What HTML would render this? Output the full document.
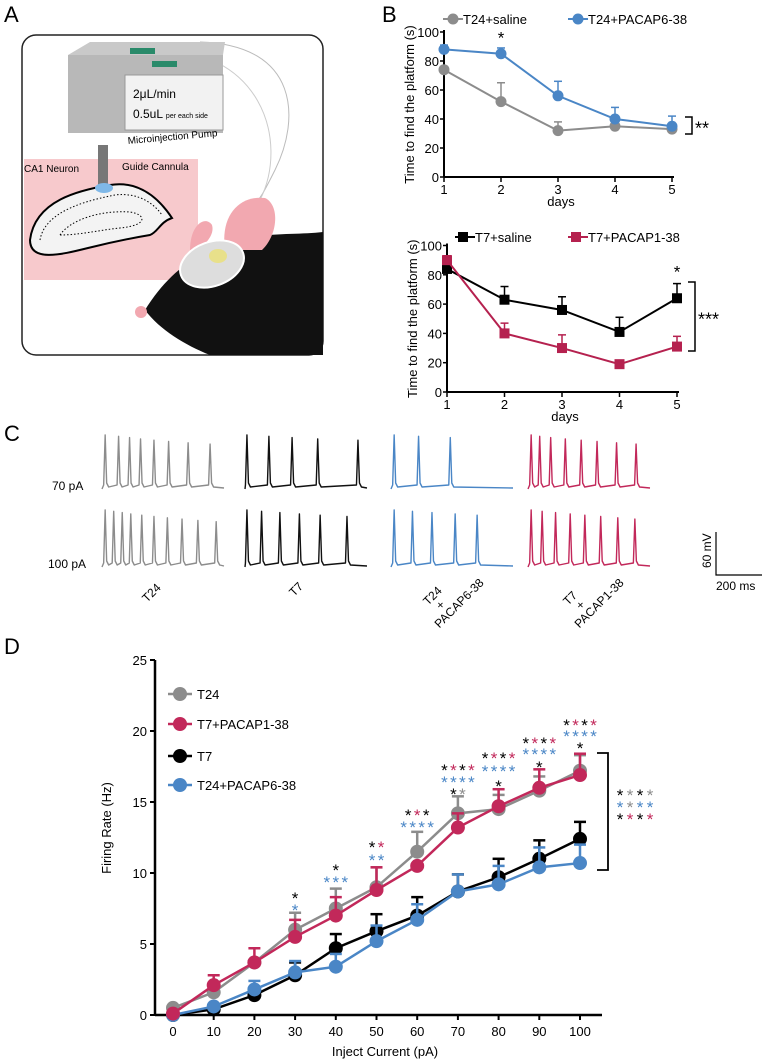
<!DOCTYPE html>
<html><head><meta charset="utf-8"><style>
body{margin:0;background:#fff;font-family:"Liberation Sans",sans-serif;}
svg{display:block}
text{font-family:"Liberation Sans",sans-serif}
</style></head><body>
<svg id="fig" width="764" height="1061" viewBox="0 0 764 1061">
<!-- Panel A -->
<g>
<text x="4" y="22" font-size="22">A</text>
<rect x="22" y="35" width="301" height="320" rx="14" fill="#fff" stroke="#222" stroke-width="1.5"/>
<rect x="24" y="159" width="174" height="121" fill="#f7c9cc"/>
<path d="M200,42 C300,45 300,120 275,170 C265,190 260,200 250,210" fill="none" stroke="#bbb" stroke-width="1"/>
<path d="M150,50 C260,45 290,140 260,200" fill="none" stroke="#ccc" stroke-width="1"/>
<g>
<polygon points="68,55 90,42 225,42 223,55" fill="#c9c9c9"/>
<rect x="68" y="55" width="155" height="78" fill="#b8b8b8"/>
<rect x="125" y="75" width="98" height="55" fill="#f2f2f2" stroke="#999"/>
<rect x="130" y="48" width="25" height="6" fill="#2a8a6a"/><rect x="152" y="61" width="25" height="6" fill="#2a8a6a"/>
<text x="133" y="98" font-size="12">2μL/min</text>
<text x="133" y="118" font-size="12">0.5uL <tspan font-size="7">per each side</tspan></text>
<text x="128" y="144" font-size="10" transform="rotate(-5 128 144)">Microinjection Pump</text>
</g>
<rect x="98" y="145" width="10" height="40" fill="#777"/>
<text x="24" y="172" font-size="10">CA1 Neuron</text>
<text x="122" y="170" font-size="10">Guide Cannula</text>
<path d="M30,240 C35,200 80,190 110,185 C140,180 160,200 172,218 C160,222 158,232 150,235 C120,240 100,245 88,248 C60,255 30,262 30,240 Z" fill="#f3f3f3" stroke="#000" stroke-width="2"/>
<path d="M40,240 C45,210 90,200 115,195 C140,192 155,205 162,215" fill="none" stroke="#000" stroke-dasharray="1.5 2" />
<path d="M60,235 C70,220 100,210 130,212 C145,214 150,225 120,228 C100,230 80,235 60,235 Z" fill="none" stroke="#000" stroke-dasharray="1.5 2"/>
<ellipse cx="104" cy="188" rx="9" ry="5" fill="#7fb8e8"/>
<path d="M145,310 C170,270 200,250 240,240 C270,232 300,235 323,232 L323,355 L210,355 C185,345 160,330 145,310 Z" fill="#111"/>
<path d="M225,250 C220,215 240,195 265,198 C280,205 278,235 262,250 Z" fill="#f2a8b0"/>
<path d="M190,250 C190,225 205,215 212,225 C215,235 205,245 195,252 Z" fill="#f2a8b0"/>
<ellipse cx="212" cy="264" rx="33" ry="22" fill="#ddd" stroke="#fff" stroke-width="2" transform="rotate(-20 212 264)"/>
<ellipse cx="218" cy="256" rx="9" ry="7" fill="#e8e08a"/>
<circle cx="141" cy="312" r="6" fill="#f2a8b0"/>
</g>

<!-- Panel B -->
<g>
<text x="382" y="22" font-size="22">B</text>
<g id="btop"></g>
<g id="bbot"></g>
</g>

<!-- Panel C -->
<g>
<text x="4" y="441" font-size="22">C</text>
<text x="52" y="490" font-size="12">70 pA</text>
<text x="48" y="568" font-size="12">100 pA</text>
<g id="traces"></g>
<path d="M716,532 V575 H762" fill="none" stroke="#000" stroke-width="1.2"/>
<text x="0" y="0" font-size="12" transform="translate(711,568) rotate(-90)">60 mV</text>
<text x="716" y="590" font-size="12">200 ms</text>
<text font-size="12" transform="translate(147,603) rotate(-45)">T24</text>
<text font-size="12" transform="translate(294,597) rotate(-45)">T7</text>
<text font-size="12" transform="translate(428,606) rotate(-45)"><tspan x="0" y="0">T24</tspan><tspan x="6" y="12">+</tspan><tspan x="-8" y="24">PACAP6-38</tspan></text>
<text font-size="12" transform="translate(568,606) rotate(-45)"><tspan x="0" y="0">T7</tspan><tspan x="6" y="12">+</tspan><tspan x="-8" y="24">PACAP1-38</tspan></text>
</g>

<!-- Panel D -->
<g>
<text x="4" y="654" font-size="22">D</text>
<g id="dchart"></g>
</g>
</svg>
<script>
const NS="http://www.w3.org/2000/svg";
function mk(tag,attrs,parent){const e=document.createElementNS(NS,tag);for(const k in attrs)e.setAttribute(k,attrs[k]);parent.appendChild(e);return e;}

// ---- Panel B data ----
const days=[1,2,3,4,5];
const bTopSaline=[74,52,32,35,33];
const bTopSalineErr=[0,13,6,5,3];
const bTopPacap=[88,85,56,40,35];
const bTopPacapErr=[3,4,10,8,7];
const bBotSaline=[84,63,56,41,64];
const bBotSalineErr=[4,9,9,10,10];
const bBotPacap=[90,40,30,19,31];
const bBotPacapErr=[3,7,9,2,7];
const bTicks=[0,20,40,60,80,100];

function bChart(g,x0,step,y0,py,series,legend,bracket,star){
  const X=d=>x0+(d-1)*step, Y=v=>y0-v*py;
  let e=mk('line',{x1:x0,y1:Y(100)-2,x2:x0,y2:y0,stroke:'#000','stroke-width':2},g);
  
  e=mk('line',{x1:x0,y1:y0,x2:X(5)+2,y2:y0,stroke:'#000','stroke-width':2},g);
  
  bTicks.forEach(t=>{mk('line',{x1:x0-4,y1:Y(t),x2:x0,y2:Y(t),stroke:'#000','stroke-width':1.5},g);
    const tx=mk('text',{x:x0-5,y:Y(t)+5,'font-size':13,'text-anchor':'end'},g);tx.textContent=t;
    });
  days.forEach(d=>{mk('line',{x1:X(d),y1:y0,x2:X(d),y2:y0+5,stroke:'#000','stroke-width':1.5},g);
    const tx=mk('text',{x:X(d),y:y0+17,'font-size':13,'text-anchor':'middle'},g);tx.textContent=d;
    });
  let t=mk('text',{x:X(3)+3,y:y0+29,'font-size':13,'text-anchor':'middle'},g);t.textContent='days';
  
  t=mk('text',{'font-size':13,'text-anchor':'middle',transform:`translate(${x0-30},${Y(50)}) rotate(-90)`},g);t.textContent='Time to find the platform (s)';
  
  series.forEach(s=>{
    s.vals.forEach((v,i)=>{if(s.err[i]>0){mk('line',{x1:X(days[i]),y1:Y(v),x2:X(days[i]),y2:Y(v+s.err[i]),stroke:s.c,'stroke-width':1.5},g);
      mk('line',{x1:X(days[i])-4,y1:Y(v+s.err[i]),x2:X(days[i])+4,y2:Y(v+s.err[i]),stroke:s.c,'stroke-width':1.5},g);}});
    const p=mk('polyline',{points:s.vals.map((v,i)=>X(days[i])+','+Y(v)).join(' '),fill:'none',stroke:s.c,'stroke-width':2},g);
    
    s.vals.forEach((v,i)=>{let m;
      if(s.sq) m=mk('rect',{x:X(days[i])-5,y:Y(v)-5,width:10,height:10,fill:s.c},g);
      else m=mk('circle',{cx:X(days[i]),cy:Y(v),r:5.5,fill:s.c},g);
      });
  });
  legend.forEach(l=>{
    mk('line',{x1:l.x-12,y1:l.y,x2:l.x+8,y2:l.y,stroke:l.c,'stroke-width':2},g);
    if(l.sq) mk('rect',{x:l.x-9,y:l.y-5,width:10,height:10,fill:l.c},g); else mk('circle',{cx:l.x-2,cy:l.y,r:5.5,fill:l.c},g);
    const tx=mk('text',{x:l.x+8,y:l.y+5,'font-size':13},g);tx.textContent=l.t;
    
  });
  mk('path',{d:`M${bracket.x},${bracket.y1} h7 V${bracket.y2} h-7`,fill:'none',stroke:'#000','stroke-width':1.5},g);
  t=mk('text',{x:bracket.x+10,y:(bracket.y1+bracket.y2)/2+9,'font-size':bracket.fs},g);t.textContent=bracket.s;
  
  t=mk('text',{x:X(star.d),y:Y(star.v),'font-size':17,'text-anchor':'middle'},g);t.textContent='*';
  
}
bChart(document.getElementById('btop'),444,57,177,1.45,
 [{name:'t24-saline',vals:bTopSaline,err:bTopSalineErr,c:'#8c8c8c'},{name:'t24-pacap6-38',vals:bTopPacap,err:bTopPacapErr,c:'#4a86c6'}],
 [{x:455,y:19,c:'#8c8c8c',t:'T24+saline'},{x:580,y:19,c:'#4a86c6',t:'T24+PACAP6-38'}],
 {x:685,y1:117,y2:134,s:'**',fs:18},{d:2,v:92});
bChart(document.getElementById('bbot'),447,57.5,392,1.465,
 [{name:'t7-saline',vals:bBotSaline,err:bBotSalineErr,c:'#000',sq:1},{name:'t7-pacap1-38',vals:bBotPacap,err:bBotPacapErr,c:'#b5214f',sq:1}],
 [{x:467,y:237,c:'#000',t:'T7+saline',sq:1},{x:580,y:237,c:'#b5214f',t:'T7+PACAP1-38',sq:1}],
 {x:688,y1:282,y2:351,s:'***',fs:18},{d:5,v:78});

// ---- Panel C traces ----
const traceGroups=[
 {x:102,c:'#8c8c8c',r70:[0.03,0.14,0.23,0.32,0.43,0.55,0.71,0.89],r100:[0.03,0.1,0.17,0.24,0.33,0.43,0.54,0.66,0.79,0.94]},
 {x:245,c:'#111',r70:[0.02,0.2,0.39,0.6,0.93],r100:[0.02,0.14,0.29,0.45,0.62,0.84]},
 {x:391,c:'#4a86c6',r70:[0.03,0.23,0.49],r100:[0.03,0.18,0.34,0.53,0.71]},
 {x:528,c:'#c2285a',r70:[0.03,0.1,0.19,0.31,0.44,0.57,0.73,0.89],r100:[0.03,0.12,0.23,0.35,0.47,0.6,0.74,0.88]}];
const tg=document.getElementById('traces');
traceGroups.forEach(gr=>{
  [[gr.r70,489,54],[gr.r100,567,57]].forEach(([sp,base,h])=>{
    const W=122;let d=`M${gr.x},${base}`;
    sp.forEach((s,i)=>{const sx=gr.x+s*W;
      d+=` L${sx-2},${base-4} L${sx-0.5},${base-h+i*1.3} L${sx+1},${base-6} L${sx+3},${base-2}`;});
    d+=` L${gr.x+W},${base-1}`;
    const p=mk('path',{d:d,fill:'none',stroke:gr.c,'stroke-width':1.4,'stroke-linejoin':'round'},tg);
    
    
  });
});

// ---- Panel D data ----
const currents=[0,10,20,30,40,50,60,70,80,90,100];
const dT24=[0.5,1.6,3.7,6.0,7.5,9.0,11.5,14.2,14.5,15.8,17.2];
const dT24Err=[0,0,0,1.2,1.4,1.4,1.4,1.2,1.0,1.0,1.1];
const dT7P=[0.1,2.1,3.7,5.5,7.0,8.8,10.5,13.2,14.7,16.0,16.9];
const dT7PErr=[0,0.7,1.0,1.2,1.3,1.6,0,1.0,1.2,1.3,1.5];
const dT7=[0,0.4,1.4,2.8,4.7,5.9,7.0,8.7,9.7,11.0,12.4];
const dT7Err=[0,0,0,0.9,1.0,1.2,1.3,1.2,1.3,1.3,1.2];
const dT24P=[0,0.6,1.8,3.0,3.4,5.2,6.7,8.7,9.2,10.4,10.7];
const dT24PErr=[0,0,0.6,0.8,0.9,1.1,1.1,1.2,1.3,1.4,1.3];
const dYTicks=[0,5,10,15,20,25];

const dg=document.getElementById('dchart');
const DX=v=>173+v*4.07, DY=v=>1015-v*14.2;
let e=mk('line',{x1:155,y1:DY(25),x2:155,y2:1015,stroke:'#000','stroke-width':2.5},dg);

e=mk('line',{x1:155,y1:1015,x2:602,y2:1015,stroke:'#000','stroke-width':2.5},dg);

dYTicks.forEach(t=>{mk('line',{x1:150,y1:DY(t),x2:155,y2:DY(t),stroke:'#000','stroke-width':2},dg);
  const tx=mk('text',{x:147,y:DY(t)+5,'font-size':13,'text-anchor':'end'},dg);tx.textContent=t;
  });
currents.forEach(c=>{mk('line',{x1:DX(c),y1:1015,x2:DX(c),y2:1020,stroke:'#000','stroke-width':2},dg);
  const tx=mk('text',{x:DX(c),y:1036,'font-size':13,'text-anchor':'middle'},dg);tx.textContent=c;
  });
let t=mk('text',{x:385,y:1056,'font-size':13,'text-anchor':'middle'},dg);t.textContent='Inject Current (pA)';

t=mk('text',{'font-size':13,'text-anchor':'middle',transform:'translate(111,828) rotate(-90)'},dg);t.textContent='Firing Rate (Hz)';


const dSeries=[
 {name:'t24',v:dT24,e:dT24Err,c:'#8c8c8c'},
 {name:'t7',v:dT7,e:dT7Err,c:'#000'},
 {name:'t24-pacap6-38',v:dT24P,e:dT24PErr,c:'#4a86c6'},
 {name:'t7-pacap1-38',v:dT7P,e:dT7PErr,c:'#c2285a'}];
dSeries.forEach(s=>{
  s.v.forEach((v,i)=>{if(s.e[i]>0){const x=DX(currents[i]);
    mk('line',{x1:x,y1:DY(v),x2:x,y2:DY(v+s.e[i]),stroke:s.c,'stroke-width':2.5},dg);
    mk('line',{x1:x-6,y1:DY(v+s.e[i]),x2:x+6,y2:DY(v+s.e[i]),stroke:s.c,'stroke-width':2.5},dg);}});
  const p=mk('polyline',{points:s.v.map((v,i)=>DX(currents[i])+','+DY(v)).join(' '),fill:'none',stroke:s.c,'stroke-width':2.5},dg);
  
  s.v.forEach((v,i)=>{const m=mk('circle',{cx:DX(currents[i]),cy:DY(v),r:7,fill:s.c},dg);
    });
});
// legend
const dLegend=[['T24','#8c8c8c',694],['T7+PACAP1-38','#c2285a',724],['T7','#000',756],['T24+PACAP6-38','#4a86c6',785]];
dLegend.forEach(([n,c,y])=>{mk('line',{x1:168,y1:y,x2:192,y2:y,stroke:c,'stroke-width':2.5},dg);
  mk('circle',{cx:180,cy:y,r:7,fill:c},dg);
  const tx=mk('text',{x:197,y:y+5,'font-size':13},dg);tx.textContent=n;
  });
// significance stars
const K='#000',R='#c2285a',B='#4a86c6',G='#8c8c8c';
const starRows=[
 [30,895,[K]],[30,907,[B]],[40,867,[K]],[40,879,[B,B,B]],[50,844,[K,R]],[50,857,[B,B]],
 [60,812,[K,R,K]],[60,824,[B,B,B,B]],[70,767,[K,R,K,R]],[70,779,[B,B,B,B]],[70,791,[K,G]],
 [80,755,[K,R,K,R]],[80,768,[B,B,B,B]],[80,783,[K]],[90,740,[K,R,K,R]],[90,751,[B,B,B,B]],[90,764,[K]],
 [100,722,[K,R,K,R]],[100,733,[B,B,B,B]],[100,745,[K]]];
starRows.forEach(([c,y,cols])=>{const w=9;const x0=DX(c)-(cols.length*w)/2+w/2;
  cols.forEach((col,i)=>{const s=mk('text',{x:x0+i*w,y:y+9,'font-size':17,'text-anchor':'middle',fill:col},dg);s.textContent='*';
    });});
mk('path',{d:'M597,753 h11 V870 h-11',fill:'none',stroke:'#000','stroke-width':1.8},dg);
[[792,[K,G,K,G]],[804,[B,G,B,B]],[816,[K,R,K,R]]].forEach(([y,cols])=>{cols.forEach((col,i)=>{
  const s=mk('text',{x:620+i*10,y:y+9,'font-size':17,'text-anchor':'middle',fill:col},dg);s.textContent='*';
  });});
</script>
</body></html>
